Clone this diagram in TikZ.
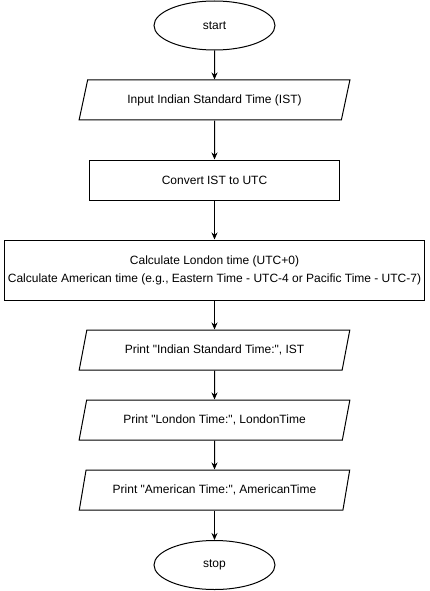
\documentclass[tikz,border=0pt]{standalone}
\usepackage{fontspec}
\setmainfont{Liberation Sans}[Ligatures=TeXOff]
\usetikzlibrary{shapes.geometric,arrows.meta}

\begin{document}
\begin{tikzpicture}[x=1pt,y=-1pt,
  every node/.style={font=\fontsize{12}{14.4}\selectfont, text=black, inner sep=0pt, line width=1pt},
  terminal/.style={draw, ellipse, minimum width=121pt, minimum height=49pt},
  process/.style={draw, rectangle, minimum height=40pt},
  io/.style={draw, trapezium, trapezium stretches=true,
    trapezium left angle=62.3, trapezium right angle=117.7,
    minimum width=271pt, minimum height=40pt},
  flow/.style={line width=1pt, -{Stealth[length=7pt,width=6pt]}}
]
  \useasboundingbox (0,0) rectangle (429,591);

  \node[terminal] (start) at (214.5,25.5) {start};
  \node[io] (input) at (214.5,100) {Input Indian Standard Time (IST)};
  \node[process, minimum width=250pt] (conv) at (214.5,180) {Convert IST to UTC};
  \node[process, minimum width=420pt, minimum height=60pt, align=center,
        font=\fontsize{12}{18}\selectfont] (calc) at (214.5,270)
    {Calculate London time (UTC+0)\\Calculate American time (e.g., Eastern Time - UTC-4 or Pacific Time - UTC-7)};
  \node[io] (pist) at (214.5,350) {Print "Indian Standard Time:", IST};
  \node[io] (plon) at (214.5,420) {Print "London Time:", LondonTime};
  \node[io] (pame) at (214.5,490) {Print "American Time:", AmericanTime};
  \node[terminal] (stop) at (214.5,565) {stop};

  \draw[flow] (start) -- (input);
  \draw[flow] (input) -- (conv);
  \draw[flow] (conv) -- (calc);
  \draw[flow] (calc) -- (pist);
  \draw[flow] (pist) -- (plon);
  \draw[flow] (plon) -- (pame);
  \draw[flow] (pame) -- (stop);
\end{tikzpicture}
\end{document}
